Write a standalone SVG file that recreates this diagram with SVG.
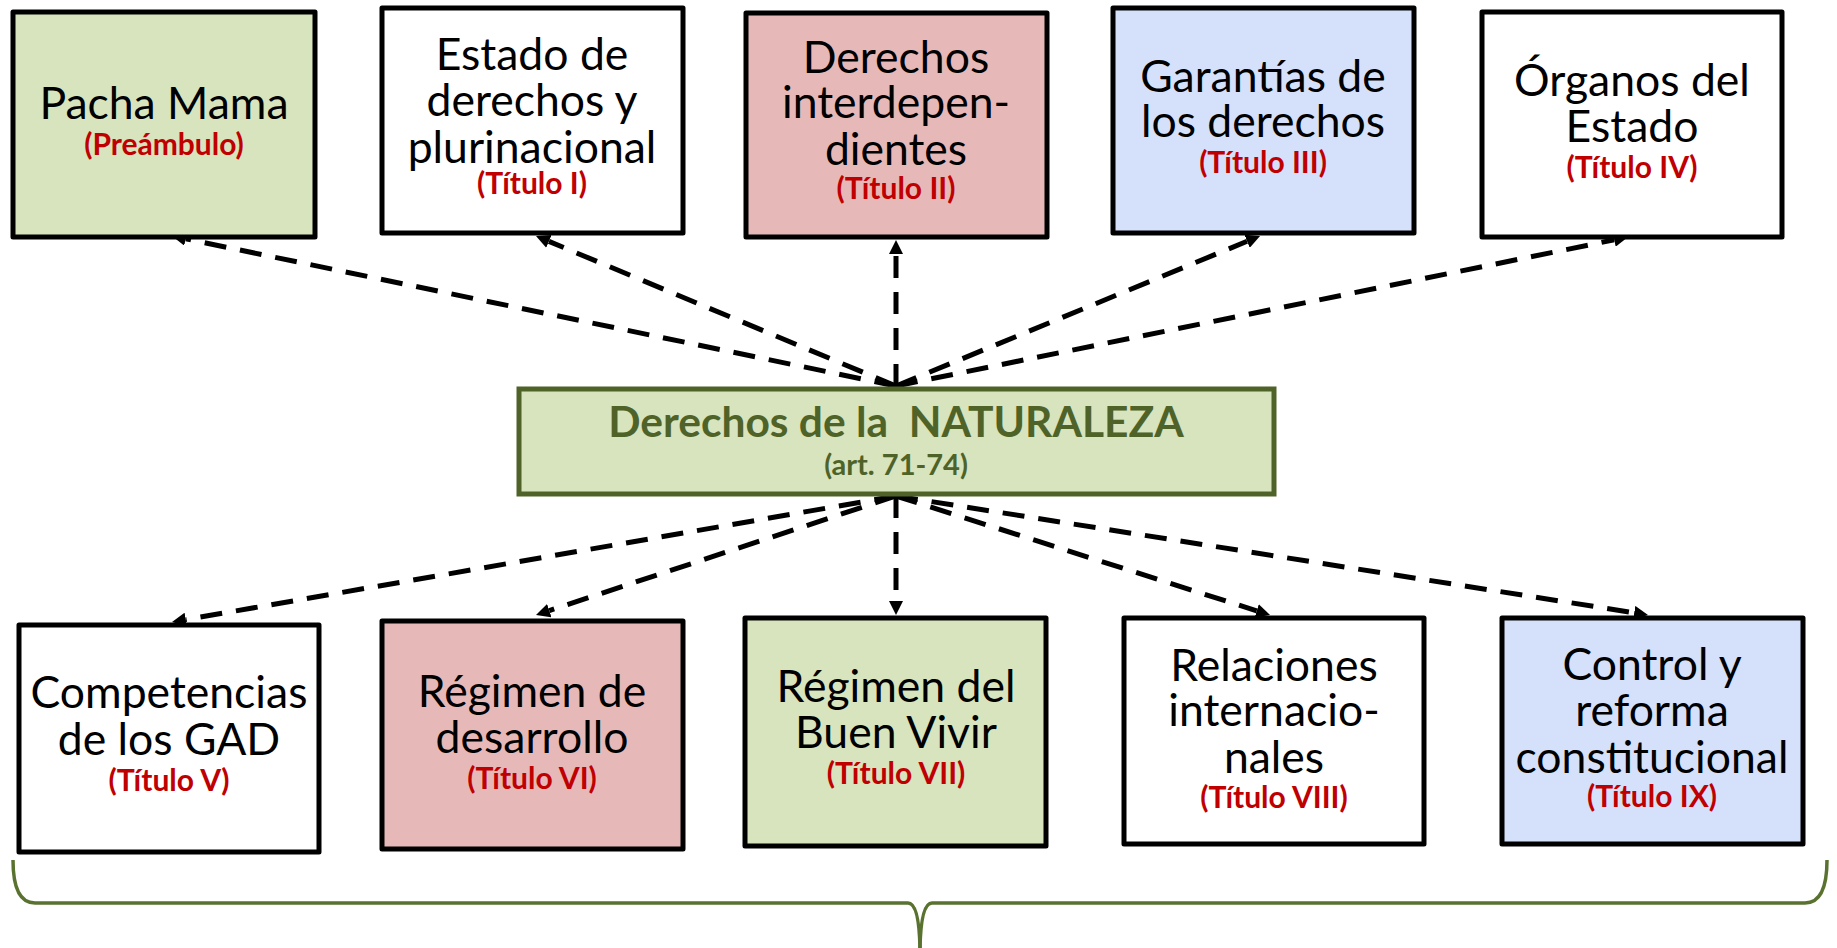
<svg xmlns="http://www.w3.org/2000/svg" width="1837" height="948" viewBox="0 0 1837 948">
<defs>
<style>
.box{stroke:#000;stroke-width:5;stroke-linejoin:round}
.g{fill:#d7e4bd}.p{fill:#e6b9b8}.b{fill:#d5e1fb}.w{fill:#fff}
.t{font-family:Lato,"Liberation Sans",sans-serif;font-size:44.5px;fill:#000;text-anchor:middle}
.r{font-family:Lato,"Liberation Sans",sans-serif;font-size:30px;font-weight:bold;fill:#c00000;text-anchor:middle}
.c{font-family:Lato,"Liberation Sans",sans-serif;font-weight:bold;fill:#4f6228;text-anchor:middle}
.ln{stroke:#000;stroke-width:5;stroke-dasharray:22 14;fill:none;marker-end:url(#ah)}
</style>
<marker id="ah" markerUnits="userSpaceOnUse" markerWidth="14" markerHeight="14" viewBox="0 0 14 14" refX="0" refY="7" orient="auto">
<path d="M0,0 L14,7 L0,14 z" fill="#000"/>
</marker>
</defs>
<rect width="1837" height="948" fill="#fff"/>

<g id="connectors">
<line class="ln" x1="896" y1="386" x2="185.7" y2="238.8"/>
<line class="ln" x1="896" y1="386" x2="548.9" y2="241.4"/>
<line class="ln" x1="896" y1="386" x2="896" y2="254"/>
<line class="ln" x1="896" y1="386" x2="1247.1" y2="241.3"/>
<line class="ln" x1="896" y1="386" x2="1614.3" y2="239.8"/>
<line class="ln" x1="896" y1="496" x2="185.8" y2="619.6"/>
<line class="ln" x1="896" y1="496" x2="549.3" y2="610.6"/>
<line class="ln" x1="896" y1="496" x2="896" y2="601"/>
<line class="ln" x1="896" y1="496" x2="1256.7" y2="610.8"/>
<line class="ln" x1="896" y1="496" x2="1634.2" y2="612.8"/>
</g>

<g id="pacha">
<rect class="box g" x="13" y="12" width="302" height="225"/>
<text class="t" x="164" y="119">Pacha Mama</text>
<text class="r" x="164" y="155">(Preámbulo)</text>
</g>
<g id="estado">
<rect class="box w" x="382" y="8" width="301" height="225"/>
<text class="t" x="532" y="70">Estado de</text>
<text class="t" x="532" y="116">derechos y</text>
<text class="t" x="532" y="163">plurinacional</text>
<text class="r" x="532" y="194">(Título I)</text>
</g>
<g id="interdependientes">
<rect class="box p" x="746" y="13" width="301" height="224"/>
<text class="t" x="896" y="73">Derechos</text>
<text class="t" x="896" y="118">interdepen-</text>
<text class="t" x="896" y="165">dientes</text>
<text class="r" x="896" y="199">(Título II)</text>
</g>
<g id="garantias">
<rect class="box b" x="1113" y="8" width="301" height="225"/>
<text class="t" x="1263" y="92">Garantías de</text>
<text class="t" x="1263" y="137">los derechos</text>
<text class="r" x="1263" y="173">(Título III)</text>
</g>
<g id="organos">
<rect class="box w" x="1482" y="12" width="300" height="225"/>
<text class="t" x="1632" y="96">Órganos del</text>
<text class="t" x="1632" y="142">Estado</text>
<text class="r" x="1632" y="178">(Título IV)</text>
</g>

<g id="naturaleza">
<rect x="519" y="389" width="755" height="105" fill="#d7e4bd" stroke="#4f6228" stroke-width="5"/>
<text class="c" x="896" y="437" font-size="42.5" xml:space="preserve">Derechos de la  NATURALEZA</text>
<text class="c" x="896" y="475" font-size="29">(art. 71-74)</text>
</g>

<g id="competencias">
<rect class="box w" x="19" y="625" width="300" height="227"/>
<text class="t" x="169" y="708">Competencias</text>
<text class="t" x="169" y="755">de los GAD</text>
<text class="r" x="169" y="791">(Título V)</text>
</g>
<g id="desarrollo">
<rect class="box p" x="382" y="621" width="301" height="228"/>
<text class="t" x="532" y="707">Régimen de</text>
<text class="t" x="532" y="753">desarrollo</text>
<text class="r" x="532" y="789">(Título VI)</text>
</g>
<g id="buenvivir">
<rect class="box g" x="745" y="618" width="301" height="228"/>
<text class="t" x="896" y="702">Régimen del</text>
<text class="t" x="896" y="748">Buen Vivir</text>
<text class="r" x="896" y="784">(Título VII)</text>
</g>
<g id="relaciones">
<rect class="box w" x="1124" y="618" width="300" height="226"/>
<text class="t" x="1274" y="681">Relaciones</text>
<text class="t" x="1274" y="726">internacio-</text>
<text class="t" x="1274" y="773">nales</text>
<text class="r" x="1274" y="808">(Título VIII)</text>
</g>
<g id="control">
<rect class="box b" x="1502" y="618" width="301" height="226"/>
<text class="t" x="1652" y="680">Control y</text>
<text class="t" x="1652" y="726">reforma</text>
<text class="t" x="1652" y="773">constitucional</text>
<text class="r" x="1652" y="807">(Título IX)</text>
</g>

<g id="brace" fill="none" stroke="#5a7230" stroke-width="3.5">
<path d="M13,860 Q13,903 35,903 L908,903 Q919,903 920,948"/>
<path d="M920,948 Q921,903 932,903 L1805,903 Q1827,903 1827,860"/>
</g>
</svg>
